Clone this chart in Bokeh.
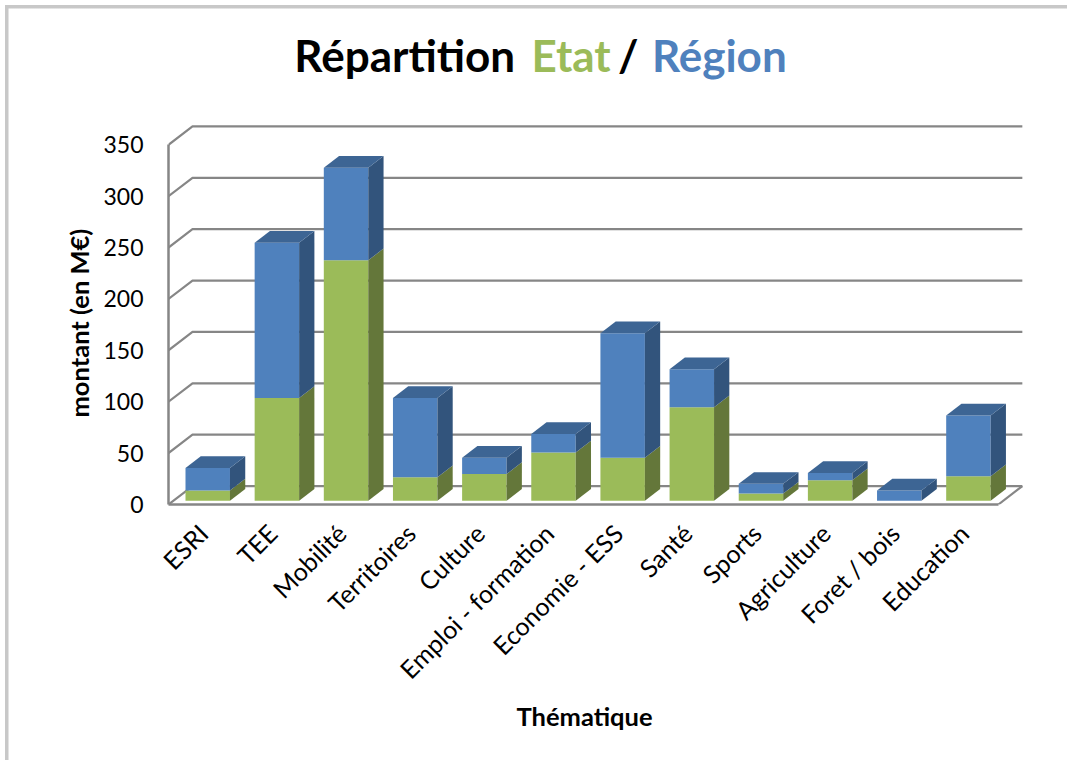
from bokeh.plotting import figure
from bokeh.embed import file_html
from bokeh.resources import INLINE
from bokeh.models import LinearAxis, FixedTicker, Title, Range1d
from bokeh.core.properties import value
import math

categories = ["ESRI", "TEE", "Mobilité", "Territoires", "Culture", "Emploi - formation",
              "Economie - ESS", "Santé", "Sports", "Agriculture", "Foret / bois", "Education"]
etat = [10, 100, 234, 23, 26, 47, 42, 91, 7, 20, 0, 24]
region = [22, 151, 90, 77, 16, 18, 121, 37, 9.5, 7, 10, 59]
y_ticks = [0, 50, 100, 150, 200, 250, 300, 350]
title_parts = ["Répartition", "Etat", "/", "Région"]
title_colors = ["#000000", "#9BBB59", "#000000", "#4F81BD"]
title_x = [1.82, 5.25, 6.5, 6.99]

FONT = "Lato"
GRID = "#868686"
FRAME = "#C8C8C8"
# projection of the fake 3D depth, in data units
WALL_DX, WALL_DY = 0.347, 17.9
BAR_LEFT, BAR_W = 0.2458, 0.643
BAR_DX, BAR_DY = 0.221, 11.4
BASE = 3.6

p = figure(width=1067, height=760, output_backend="svg", toolbar_location=None,
           x_range=Range1d(0, 13), y_range=Range1d(0, 490.4),
           x_axis_type=None, y_axis_type=None,
           min_border_left=168, min_border_right=0, min_border_top=0, min_border_bottom=256,
           outline_line_color=None, background_fill_color=None, border_fill_color=None)
p.grid.visible = False
p.styles = {"background": f"linear-gradient({FRAME},{FRAME}) 5px 5px/3.5px 100% no-repeat,"
                          f"linear-gradient({FRAME},{FRAME}) 5px 5px/100% 3.5px no-repeat, white"}

# back wall and floor
n = len(categories)
for v in y_ticks:
    p.line([0, WALL_DX, n + WALL_DX], [v, v + WALL_DY, v + WALL_DY], line_color=GRID, line_width=2.2)
p.line([n, n + WALL_DX], [0, WALL_DY], line_color=GRID, line_width=2.2)


def quad(x0, x1, y0, y1):
    return [x0, x1, x1, x0], [y0, y0, y1, y1]


faces = {"#9BBB59": [], "#64773A": [], "#4F81BD": [], "#32547C": [], "#3D6594": []}
for i, (g, b) in enumerate(zip(etat, region)):
    l = i + BAR_LEFT
    r = l + BAR_W
    g_top = BASE + g
    t_top = g_top + b
    if g > 0:
        faces["#9BBB59"].append(quad(l, r, BASE, g_top))
        faces["#64773A"].append(([r, r + BAR_DX, r + BAR_DX, r],
                                 [BASE, BASE + BAR_DY, g_top + BAR_DY, g_top]))
    faces["#4F81BD"].append(quad(l, r, g_top, t_top))
    faces["#32547C"].append(([r, r + BAR_DX, r + BAR_DX, r],
                             [g_top, g_top + BAR_DY, t_top + BAR_DY, t_top]))
    faces["#3D6594"].append(([l, r, r + BAR_DX, l + BAR_DX],
                             [t_top, t_top, t_top + BAR_DY, t_top + BAR_DY]))
for color, polys in faces.items():
    p.patches([q[0] for q in polys], [q[1] for q in polys], fill_color=color, line_color=None)

# axes
ya = LinearAxis(ticker=FixedTicker(ticks=y_ticks), bounds=(0, 350))
ya.axis_line_color = GRID
ya.axis_line_width = 2.5
ya.major_tick_line_color = None
ya.minor_tick_line_color = None
ya.major_label_text_font = FONT
ya.major_label_text_font_size = "23px"
ya.major_label_text_color = "#000000"
ya.major_label_standoff = 19
p.add_layout(ya, "left")

xa = LinearAxis(ticker=FixedTicker(ticks=[i + 0.5 for i in range(n)]), bounds=(0, n))
xa.major_label_overrides = {i + 0.5: c for i, c in enumerate(categories)}
xa.major_label_orientation = math.pi / 4
xa.axis_line_color = GRID
xa.axis_line_width = 2.5
xa.major_tick_line_color = None
xa.minor_tick_line_color = None
xa.major_label_text_font = FONT
xa.major_label_text_font_size = "25px"
xa.major_label_text_color = "#000000"
xa.major_label_standoff = 18
p.add_layout(xa, "below")

# axis titles
p.add_layout(Title(text="montant (en M€)", align="left", offset=87, standoff=14, text_font=FONT,
                   text_font_size="25.5px", text_font_style="bold", text_color="#000000"), "left")
p.add_layout(Title(text="Thématique", align="left", offset=348, standoff=2, text_font=FONT,
                   text_font_size="25.5px", text_font_style="bold", text_color="#000000"), "below")

# title
p.text(title_x, [437] * 4, text=title_parts, text_color=title_colors,
       text_font=value(FONT), text_font_size="44px", text_font_style="bold",
       text_baseline="alphabetic", text_align="left")

open("out.html", "w").write(file_html(p, INLINE))
